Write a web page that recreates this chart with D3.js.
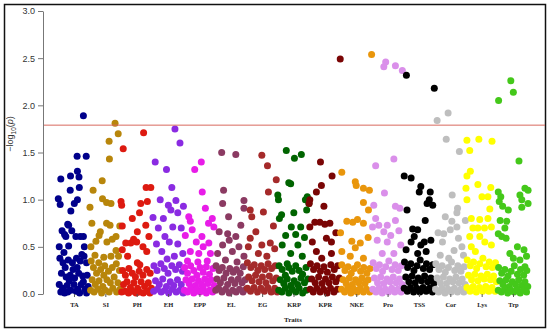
<!DOCTYPE html>
<html>
<head>
<meta charset="utf-8">
<script src="https://cdn.jsdelivr.net/npm/d3@7"></script>
<style>
  body { margin: 0; background: #fff; }
</style>
</head>
<body>
<svg id="chart" width="550" height="332"></svg>
<script>
var traits = ["TA", "SI", "PH", "EH", "EPP", "EL", "EG", "KRP", "KPR", "NKE", "Pro", "TSS", "Cor", "Lys", "Trp"];
var traitColors = ["#00008B", "#B8860B", "#DD1A10", "#8A2BE2", "#E81CE8", "#8B3A62", "#A52A2A", "#006400",
                   "#7A0505", "#E9960C", "#DA8FEA", "#000000", "#BEBEBE", "#FFFF00", "#44C81A"];
var yTicks = [0, 0.5, 1, 1.5, 2, 2.5, 3];
var threshold = 1.79;

// each SNP: [position inside trait block (0-1), -log10(p)]
var TA = [[0.80,1.89],[0.60,1.46],[0.89,1.46],[0.61,1.30],[0.39,1.25],[0.66,1.24],[0.08,1.22],[0.38,1.10],[0.67,1.13],[0.00,1.01],[0.06,0.95],[0.61,1.00],[0.51,0.96],[0.40,0.88],[0.33,0.73],[0.12,0.67],[0.43,0.67],[0.03,0.50],[0.24,0.61],[0.33,0.51],[0.56,0.61],[0.80,0.61],[0.83,0.50],[0.20,0.63],[0.30,0.74],[0.70,0.61],
  [0.05,0.38],[0.15,0.33],[0.22,0.28],[0.32,0.36],[0.45,0.33],[0.58,0.38],[0.70,0.35],[0.82,0.40],[0.90,0.33],[0.10,0.22],[0.25,0.18],[0.38,0.20],[0.52,0.17],[0.65,0.22],[0.78,0.19],[0.92,0.20],[0.03,0.10],[0.14,0.06],[0.28,0.09],[0.40,0.04],[0.50,0.10],[0.62,0.05],[0.73,0.10],[0.85,0.05],[0.95,0.08],[0.08,0.02],[0.20,0.01],[0.35,0.14],[0.47,0.26],[0.57,0.03],[0.68,0.01],[0.80,0.13],[0.90,0.01],[0.18,0.44],[0.60,0.28],[0.75,0.42],[0.30,0.02]];
var SI = [[0.81,1.81],[0.91,1.70],[0.62,1.62],[0.63,1.43],[0.40,1.20],[0.11,1.10],[0.41,1.01],[0.54,0.97],[0.68,0.96],[0.01,0.92],[0.07,0.75],[0.54,0.75],[0.65,0.73],[0.96,0.72],[0.34,0.66],[0.84,0.61],[0.04,0.50],[0.20,0.56],[0.55,0.55],[0.84,0.46],[0.17,0.41],[0.45,0.39],[0.29,0.33],[0.72,0.58],[0.30,0.62],
  [0.05,0.35],[0.12,0.28],[0.22,0.22],[0.35,0.26],[0.48,0.30],[0.60,0.24],[0.72,0.28],[0.85,0.32],[0.95,0.25],[0.08,0.15],[0.18,0.10],[0.30,0.14],[0.42,0.08],[0.55,0.15],[0.66,0.12],[0.78,0.18],[0.90,0.12],[0.03,0.04],[0.14,0.02],[0.26,0.05],[0.38,0.01],[0.50,0.04],[0.62,0.02],[0.74,0.06],[0.86,0.02],[0.97,0.05],[0.45,0.20],[0.68,0.40],[0.92,0.40]];
var PH = [[0.07,1.54],[0.72,1.71],[0.80,1.13],[0.95,1.13],[0.00,0.98],[0.02,0.94],[0.63,0.96],[0.84,0.98],[0.59,0.86],[0.36,0.80],[0.79,0.73],[0.04,0.72],[0.52,0.66],[0.50,0.55],[0.31,0.54],[0.15,0.54],[0.89,0.61],[0.04,0.47],[0.82,0.45],[0.52,0.33],[0.60,0.31],[0.21,0.40],[0.40,0.58],[0.70,0.50],
  [0.05,0.25],[0.14,0.20],[0.25,0.27],[0.36,0.22],[0.46,0.18],[0.58,0.24],[0.70,0.20],[0.82,0.26],[0.93,0.22],[0.08,0.10],[0.19,0.13],[0.30,0.07],[0.41,0.12],[0.53,0.06],[0.64,0.13],[0.75,0.08],[0.87,0.12],[0.97,0.06],[0.02,0.02],[0.13,0.03],[0.24,0.01],[0.36,0.03],[0.48,0.01],[0.59,0.02],[0.71,0.01],[0.83,0.03],[0.92,0.01]];
var EH = [[0.72,1.75],[0.88,1.60],[0.09,1.40],[0.45,1.32],[0.02,0.81],[0.35,0.80],[0.51,0.94],[0.75,0.99],[0.59,0.89],[0.81,0.86],[0.99,0.93],[0.19,0.70],[0.40,0.61],[0.65,0.71],[0.92,0.70],[0.13,0.53],[0.54,0.55],[0.81,0.53],[0.30,0.45],[0.47,0.37],[0.70,0.40],[0.97,0.43],[0.25,1.00],[0.62,1.13],
  [0.05,0.30],[0.15,0.25],[0.27,0.32],[0.38,0.27],[0.50,0.22],[0.62,0.30],[0.74,0.26],[0.86,0.31],[0.96,0.24],[0.10,0.14],[0.22,0.10],[0.33,0.16],[0.45,0.08],[0.57,0.13],[0.68,0.09],[0.80,0.15],[0.92,0.10],[0.04,0.03],[0.16,0.05],[0.28,0.02],[0.40,0.04],[0.52,0.01],[0.64,0.05],[0.76,0.02],[0.88,0.04],[0.98,0.01]];
var EPP = [[0.35,1.32],[0.56,1.40],[0.59,1.08],[0.21,0.77],[0.16,0.82],[0.27,0.68],[0.58,0.61],[0.80,0.54],[0.48,0.43],[0.21,0.45],[0.69,0.91],[0.91,0.80],[0.79,0.75],[0.96,0.71],[0.62,0.50],[0.85,0.43],[0.05,0.62],[0.40,0.55],[0.12,0.35],
  [0.03,0.28],[0.12,0.22],[0.22,0.30],[0.32,0.25],[0.42,0.20],[0.52,0.28],[0.62,0.23],[0.72,0.29],[0.82,0.21],[0.93,0.27],[0.07,0.15],[0.17,0.11],[0.27,0.16],[0.37,0.09],[0.47,0.14],[0.57,0.10],[0.67,0.16],[0.77,0.11],[0.87,0.15],[0.97,0.09],[0.02,0.04],[0.12,0.02],[0.22,0.06],[0.32,0.01],[0.42,0.05],[0.52,0.02],[0.62,0.06],[0.72,0.01],[0.82,0.04],[0.92,0.02],[0.45,0.34],[0.75,0.35]];
var EL = [[0.21,1.50],[0.66,1.48],[0.27,1.10],[0.24,0.96],[0.92,0.99],[0.92,0.91],[0.43,0.82],[0.82,0.73],[0.13,0.66],[0.40,0.64],[0.45,0.57],[0.66,0.61],[0.76,0.50],[0.24,0.52],[0.55,0.45],[0.08,0.43],[0.92,0.40],[0.33,0.36],[0.70,0.34],
  [0.03,0.30],[0.13,0.25],[0.23,0.28],[0.35,0.22],[0.47,0.27],[0.58,0.23],[0.68,0.26],[0.80,0.22],[0.90,0.29],[0.06,0.16],[0.17,0.12],[0.28,0.17],[0.40,0.10],[0.52,0.15],[0.63,0.11],[0.74,0.16],[0.86,0.12],[0.96,0.15],[0.02,0.04],[0.11,0.06],[0.22,0.02],[0.33,0.05],[0.45,0.01],[0.56,0.04],[0.67,0.02],[0.78,0.05],[0.89,0.02],[0.98,0.05]];
var EG = [[0.49,1.47],[0.67,1.36],[0.95,1.21],[0.70,1.08],[0.12,0.89],[0.54,0.87],[0.17,0.82],[0.86,0.72],[0.12,0.59],[0.06,0.50],[0.49,0.52],[0.76,0.54],[0.38,0.43],[0.65,0.40],[0.30,0.66],[0.90,0.48],
  [0.03,0.33],[0.14,0.28],[0.25,0.31],[0.36,0.25],[0.47,0.30],[0.58,0.26],[0.69,0.32],[0.80,0.27],[0.92,0.30],[0.07,0.18],[0.18,0.14],[0.29,0.20],[0.40,0.13],[0.51,0.18],[0.62,0.12],[0.73,0.19],[0.84,0.14],[0.95,0.17],[0.03,0.06],[0.13,0.03],[0.24,0.07],[0.35,0.02],[0.46,0.06],[0.57,0.03],[0.68,0.07],[0.79,0.02],[0.90,0.06],[0.98,0.02]];
var KRP = [[0.27,1.52],[0.53,1.44],[0.75,1.48],[0.35,1.18],[0.41,1.17],[0.00,1.05],[0.02,1.00],[0.94,1.03],[0.88,1.00],[0.99,0.96],[0.12,0.84],[0.05,0.80],[0.51,0.86],[0.92,0.89],[0.43,0.71],[0.73,0.71],[0.57,0.63],[0.14,0.52],[0.64,0.52],[0.41,0.43],[0.78,0.40],[0.25,0.62],[0.85,0.60],[0.30,0.32],
  [0.04,0.30],[0.14,0.26],[0.24,0.20],[0.35,0.28],[0.46,0.24],[0.57,0.30],[0.68,0.25],[0.79,0.21],[0.90,0.28],[0.08,0.15],[0.19,0.11],[0.30,0.16],[0.41,0.09],[0.52,0.14],[0.63,0.10],[0.74,0.17],[0.85,0.12],[0.96,0.16],[0.03,0.04],[0.13,0.02],[0.24,0.06],[0.35,0.01],[0.46,0.05],[0.57,0.02],[0.68,0.06],[0.79,0.01],[0.90,0.04]];
var KPR = [[0.99,2.49],[0.36,1.40],[0.73,1.25],[0.39,1.15],[0.23,1.08],[0.02,1.00],[0.47,0.93],[0.00,0.96],[0.02,0.71],[0.18,0.76],[0.34,0.76],[0.50,0.74],[0.66,0.75],[0.55,0.59],[0.71,0.55],[0.23,0.45],[0.71,0.43],[0.10,0.55],[0.85,0.65],[0.40,0.38],
  [0.04,0.32],[0.14,0.26],[0.25,0.30],[0.36,0.24],[0.47,0.29],[0.58,0.23],[0.69,0.31],[0.80,0.26],[0.91,0.30],[0.08,0.16],[0.19,0.12],[0.30,0.18],[0.41,0.11],[0.52,0.16],[0.63,0.12],[0.74,0.18],[0.85,0.13],[0.96,0.17],[0.03,0.05],[0.13,0.02],[0.24,0.06],[0.35,0.02],[0.46,0.05],[0.57,0.01],[0.68,0.06],[0.79,0.02],[0.90,0.05]];
var NKE = [[0.99,2.54],[0.04,1.29],[0.47,1.19],[0.50,1.15],[0.73,1.12],[0.92,1.10],[0.73,0.97],[0.89,0.89],[0.20,0.77],[0.39,0.76],[0.54,0.79],[0.73,0.75],[0.00,0.65],[0.36,0.56],[0.63,0.54],[0.47,0.49],[0.04,0.45],[0.31,0.40],[0.73,0.38],[0.88,0.60],
  [0.04,0.31],[0.14,0.25],[0.24,0.29],[0.34,0.22],[0.44,0.27],[0.54,0.31],[0.64,0.24],[0.74,0.28],[0.84,0.22],[0.94,0.27],[0.08,0.15],[0.18,0.11],[0.28,0.17],[0.38,0.10],[0.48,0.15],[0.58,0.12],[0.68,0.17],[0.78,0.11],[0.88,0.15],[0.03,0.05],[0.13,0.02],[0.23,0.06],[0.33,0.01],[0.43,0.05],[0.53,0.02],[0.63,0.06],[0.73,0.02],[0.83,0.05],[0.93,0.02]];
var Pro = [[0.44,2.46],[0.38,2.41],[0.75,2.42],[0.97,2.37],[0.12,1.36],[0.70,1.43],[0.40,1.07],[0.06,0.94],[0.75,0.93],[0.89,0.91],[0.22,0.73],[0.49,0.73],[0.75,0.78],[0.86,0.67],[0.02,0.71],[0.12,0.80],[0.38,0.66],[0.17,0.57],[0.49,0.55],[0.33,0.43],[0.70,0.43],[0.60,0.62],[0.92,0.52],
  [0.04,0.33],[0.14,0.27],[0.24,0.31],[0.34,0.24],[0.44,0.29],[0.54,0.35],[0.64,0.26],[0.74,0.31],[0.84,0.25],[0.94,0.30],[0.08,0.17],[0.18,0.12],[0.28,0.18],[0.38,0.11],[0.48,0.16],[0.58,0.13],[0.68,0.18],[0.78,0.12],[0.88,0.16],[0.97,0.10],[0.03,0.05],[0.13,0.02],[0.23,0.06],[0.33,0.01],[0.43,0.05],[0.53,0.02],[0.63,0.06],[0.73,0.02],[0.83,0.05],[0.93,0.02]];
var TSS = [[0.10,2.32],[0.99,2.18],[0.03,1.25],[0.25,1.23],[0.56,1.14],[0.51,1.08],[0.86,1.08],[0.83,1.00],[0.94,0.94],[0.76,0.96],[0.12,0.89],[0.70,0.78],[0.30,0.69],[0.46,0.68],[0.35,0.61],[0.88,0.57],[0.67,0.55],[0.25,0.55],[0.56,0.52],[0.09,0.47],[0.46,0.43],[0.73,0.45],
  [0.04,0.34],[0.14,0.28],[0.24,0.32],[0.34,0.25],[0.44,0.30],[0.54,0.36],[0.64,0.27],[0.74,0.32],[0.84,0.26],[0.94,0.31],[0.08,0.18],[0.18,0.13],[0.28,0.19],[0.38,0.12],[0.48,0.17],[0.58,0.14],[0.68,0.19],[0.78,0.13],[0.88,0.17],[0.97,0.11],[0.03,0.06],[0.13,0.03],[0.23,0.07],[0.33,0.02],[0.43,0.06],[0.53,0.02],[0.63,0.07],[0.73,0.03],[0.83,0.06],[0.93,0.02]];
var Cor = [[0.08,1.84],[0.43,1.92],[0.37,1.64],[0.79,1.51],[0.56,1.05],[0.73,0.91],[0.71,0.86],[0.34,0.82],[0.55,0.77],[0.71,0.71],[0.50,0.68],[0.98,0.78],[0.29,0.64],[0.11,0.65],[0.76,0.59],[0.87,0.50],[0.92,0.41],[0.18,0.41],[0.45,0.38],[0.62,0.46],[0.25,0.55],
  [0.04,0.32],[0.14,0.26],[0.24,0.30],[0.34,0.23],[0.44,0.28],[0.54,0.34],[0.64,0.25],[0.74,0.30],[0.84,0.24],[0.94,0.29],[0.08,0.17],[0.18,0.12],[0.28,0.18],[0.38,0.11],[0.48,0.16],[0.58,0.13],[0.68,0.18],[0.78,0.12],[0.88,0.16],[0.97,0.10],[0.03,0.05],[0.13,0.02],[0.23,0.06],[0.33,0.01],[0.43,0.05],[0.53,0.02],[0.63,0.06],[0.73,0.02],[0.83,0.05],[0.93,0.02]];
var Lys = [[0.03,1.63],[0.41,1.64],[0.83,1.62],[0.12,1.52],[0.14,1.30],[0.03,1.25],[0.00,1.12],[0.38,1.16],[0.79,1.13],[0.51,1.03],[0.70,1.03],[0.03,1.00],[0.76,0.90],[0.17,0.80],[0.44,0.79],[0.70,0.80],[0.22,0.70],[0.38,0.70],[0.59,0.70],[0.81,0.71],[0.12,0.61],[0.44,0.61],[0.81,0.52],[0.17,0.50],[0.60,0.55],[0.30,0.45],
  [0.04,0.36],[0.14,0.30],[0.24,0.34],[0.34,0.27],[0.44,0.32],[0.54,0.38],[0.64,0.29],[0.74,0.34],[0.84,0.28],[0.94,0.33],[0.08,0.20],[0.18,0.15],[0.28,0.21],[0.38,0.14],[0.48,0.19],[0.58,0.16],[0.68,0.21],[0.78,0.15],[0.88,0.19],[0.97,0.13],[0.03,0.07],[0.13,0.03],[0.23,0.08],[0.33,0.02],[0.43,0.07],[0.53,0.03],[0.63,0.08],[0.73,0.03],[0.83,0.07],[0.93,0.03]];
var Trp = [[0.43,2.26],[0.51,2.14],[0.04,2.05],[0.69,1.41],[0.03,1.08],[0.11,1.03],[0.88,1.12],[0.98,1.10],[0.72,1.05],[0.78,1.00],[0.06,0.98],[0.17,0.93],[0.35,0.89],[0.78,0.92],[0.98,0.96],[0.09,0.78],[0.30,0.77],[0.24,0.70],[0.03,0.64],[0.14,0.61],[0.28,0.59],[0.64,0.50],[0.85,0.47],[0.40,0.43],[0.51,0.38],[0.72,0.36],[0.93,0.40],[0.88,0.29],
  [0.04,0.28],[0.14,0.22],[0.24,0.26],[0.34,0.19],[0.44,0.24],[0.54,0.30],[0.64,0.21],[0.74,0.26],[0.84,0.20],[0.94,0.25],[0.08,0.14],[0.18,0.10],[0.28,0.15],[0.38,0.08],[0.48,0.13],[0.58,0.10],[0.68,0.15],[0.78,0.09],[0.88,0.13],[0.97,0.08],[0.03,0.04],[0.13,0.02],[0.23,0.05],[0.33,0.01],[0.43,0.04],[0.53,0.02],[0.63,0.05],[0.73,0.01],[0.83,0.04],[0.93,0.02]];

var groups = [TA, SI, PH, EH, EPP, EL, EG, KRP, KPR, NKE, Pro, TSS, Cor, Lys, Trp];

var svg = d3.select("#chart");

svg.append("rect")
  .attr("width", 550).attr("height", 332)
  .attr("fill", "#fff");

// frame around the figure
svg.append("rect")
  .attr("x", 4.5).attr("y", 4.5)
  .attr("width", 541).attr("height", 323)
  .attr("fill", "none")
  .attr("stroke", "#111")
  .attr("stroke-width", 1.5);

var x = d3.scaleLinear()
  .domain([0, traits.length])
  .range([58.3, 528.7]);

var y = d3.scaleLinear()
  .domain([0, 3])
  .range([294, 11]);

// points, one trait after another
var points = [];
groups.forEach(function(g, i) {
  g.forEach(function(d) {
    points.push({pos: i + d[0], val: d[1], color: traitColors[i]});
  });
});

svg.append("g")
  .selectAll("circle")
  .data(points)
  .enter()
  .append("circle")
  .attr("cx", function(d) { return x(d.pos); })
  .attr("cy", function(d) { return y(d.val); })
  .attr("r", 3.5)
  .attr("fill", function(d) { return d.color; });

// significance line
svg.append("line")
  .attr("x1", 43).attr("x2", 545)
  .attr("y1", y(threshold)).attr("y2", y(threshold))
  .attr("stroke", "#D9685E")
  .attr("stroke-width", 1);

// y axis
var yAxis = svg.append("g")
  .attr("transform", "translate(43,0)")
  .call(d3.axisLeft(y).tickValues(yTicks).tickFormat(d3.format(".1f")).tickSize(5).tickSizeOuter(0).tickPadding(3));
yAxis.select(".domain").attr("stroke", "#777");
yAxis.selectAll(".tick line").attr("stroke", "#777");
yAxis.selectAll("text")
  .attr("fill", "#333")
  .style("font-family", "Liberation Sans, Arial, sans-serif")
  .style("font-size", "9px");

// x axis (ticks only)
var xAxis = svg.append("g")
  .attr("transform", "translate(0,294)")
  .call(d3.axisBottom(x)
    .tickValues(traits.map(function(d, i) { return i + 0.5; }))
    .tickFormat(function(d, i) { return traits[i]; })
    .tickSize(3).tickPadding(5));
xAxis.select(".domain").remove();
xAxis.selectAll(".tick line").attr("stroke", "#555");
xAxis.selectAll("text")
  .attr("fill", "#222")
  .style("font-family", "Liberation Serif, Times New Roman, serif")
  .style("font-weight", "bold")
  .style("font-size", "6.5px");

svg.append("text")
  .attr("x", 293).attr("y", 322)
  .attr("text-anchor", "middle")
  .style("font-family", "Liberation Serif, Times New Roman, serif")
  .style("font-weight", "bold")
  .style("font-size", "7px")
  .attr("fill", "#222")
  .text("Traits");

var yTitle = svg.append("text")
  .attr("transform", "translate(13,134) rotate(-90)")
  .attr("text-anchor", "middle")
  .style("font-family", "Liberation Sans, Arial, sans-serif")
  .style("font-size", "9px")
  .attr("fill", "#333");
yTitle.append("tspan").text("\u2212log");
yTitle.append("tspan").attr("dy", 2.5).style("font-size", "6.5px").text("10");
yTitle.append("tspan").attr("dy", -2.5).text("(");
yTitle.append("tspan").style("font-style", "italic").text("p");
yTitle.append("tspan").text(")");
</script>
</body>
</html>
